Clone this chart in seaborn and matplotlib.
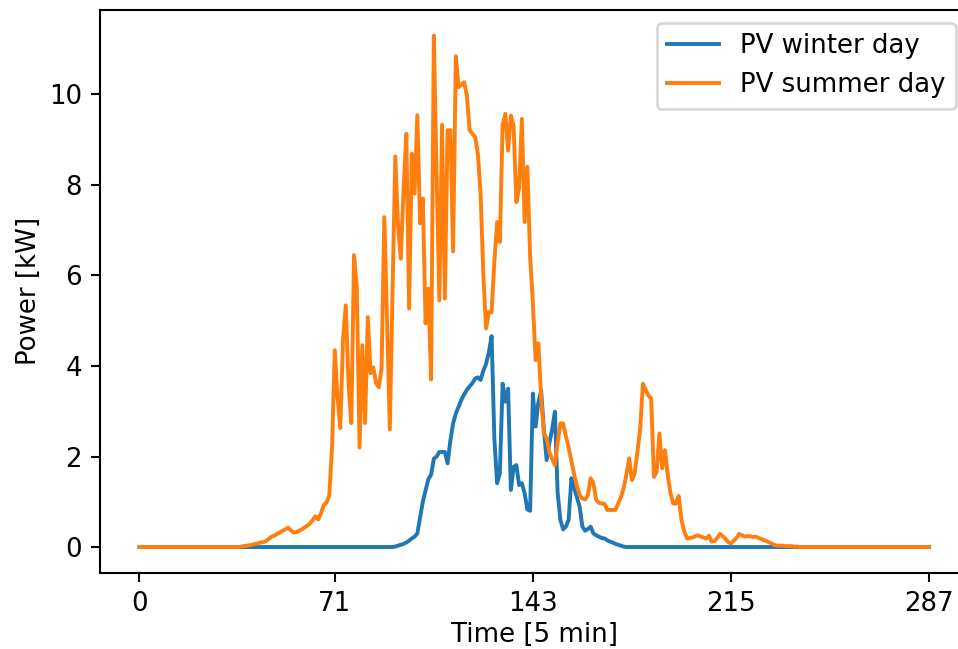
import numpy as np
import pandas as pd
import seaborn as sns
import matplotlib
matplotlib.use("Agg")
import matplotlib.pyplot as plt

#%% data (5 min steps, 288 per day)
pv_summer = ([0.0] * 37
             + [0.01, 0.02, 0.03, 0.04, 0.05, 0.07, 0.08, 0.1, 0.11, 0.13, 0.18, 0.23, 0.25, 0.29, 0.32, 0.36,
                0.39, 0.43, 0.37, 0.32, 0.33, 0.36, 0.39, 0.43, 0.47, 0.52, 0.6, 0.68, 0.61, 0.75, 0.93, 0.98]
             + [1.15, 2.2, 4.35, 3.3, 2.63, 4.6, 5.34, 3.6, 2.74, 6.45, 5.74, 2.2, 4.46, 2.74, 5.08, 3.84, 3.97, 3.62, 3.53, 3.95]
             + [7.29, 5.0, 2.6, 5.7, 8.63, 7.07, 6.37, 7.9, 9.13, 5.27, 8.69, 7.81, 9.54, 7.15, 7.7, 4.94, 5.71, 3.7, 11.3, 8.3]
             + [5.45, 9.33, 5.49, 9.21, 9.21, 6.53, 10.84, 10.16, 10.22, 10.27, 9.98, 9.21, 9.13, 9.06, 8.69, 7.81, 6.0, 4.83, 5.19, 5.19]
             + [6.3, 7.18, 6.74, 9.32, 9.57, 8.76, 9.53, 9.3, 7.62, 7.95, 9.46, 7.18, 8.4, 6.41, 5.4, 4.13, 4.5, 3.3, 2.51, 2.4]
             + [2.1, 1.95, 1.81, 2.3, 2.73, 2.73, 2.45, 2.2, 1.9, 1.6, 1.35, 1.15, 1.07, 1.05, 1.15, 1.52, 1.41, 1.04, 0.98, 0.96]
             + [0.96, 0.82, 0.82, 0.82, 0.82, 0.96, 1.1, 1.3, 1.6, 1.96, 1.48, 1.63, 2.1, 2.6, 3.61, 3.47, 3.35, 3.28, 1.55, 1.66]
             + [2.51, 1.74, 2.14, 1.6, 1.2, 0.96, 0.96, 1.13, 0.6, 0.35, 0.19, 0.2, 0.21, 0.24, 0.26, 0.23, 0.21, 0.19, 0.25, 0.12]
             + [0.13, 0.2, 0.29, 0.24, 0.18, 0.11, 0.08, 0.14, 0.2, 0.29, 0.26, 0.23, 0.24, 0.24, 0.22, 0.23, 0.2, 0.18, 0.15, 0.13]
             + [0.1, 0.07, 0.04, 0.03, 0.03, 0.03, 0.02, 0.02, 0.02, 0.01, 0.01]
             + [0.0] * 48)

pv_winter = ([0.0] * 93
             + [0.01, 0.03, 0.05, 0.07, 0.1, 0.14, 0.19, 0.23, 0.3, 0.65, 1.0, 1.25, 1.5, 1.6, 1.95, 2.0, 2.1, 2.1, 2.1, 1.85]
             + [2.35, 2.73, 2.95, 3.1, 3.25, 3.37, 3.47, 3.55, 3.62, 3.72, 3.75, 3.69, 3.9, 4.05, 4.3, 4.66, 2.4, 1.41, 1.63, 3.61]
             + [3.21, 3.5, 1.26, 1.77, 1.81, 1.37, 1.41, 1.19, 0.83, 0.8, 3.39, 2.66, 3.2, 3.45, 2.6, 1.92, 2.3, 2.6, 2.99, 1.2]
             + [0.6, 0.39, 0.45, 0.6, 1.52, 1.3, 1.1, 0.89, 0.45, 0.36, 0.4, 0.45, 0.3, 0.26, 0.23, 0.2, 0.19, 0.15, 0.12, 0.1]
             + [0.07, 0.05, 0.03, 0.01]
             + [0.0] * 111)

x_ticks = [0, 71, 143, 215, 287]

df = pd.DataFrame({"t": np.arange(len(pv_winter)), "winter": pv_winter, "summer": pv_summer})

#%% plot
DPI = 187
fig = plt.figure(figsize=(959 / DPI, 649 / DPI), dpi=DPI)
# axes run a bit past the right border, like the reference
ax = fig.add_axes([100 / 959, (649 - 572.6) / 649, 868.5 / 959, 562.6 / 649])

sns.lineplot(data=df, x="t", y="winter", ax=ax, color="#1f77b4", linewidth=1.5, label="PV winter day")
sns.lineplot(data=df, x="t", y="summer", ax=ax, color="#ff7f0e", linewidth=1.5, label="PV summer day")

ax.set_xticks(x_ticks)
ax.set_xlabel("Time [5 min]", labelpad=2)
ax.set_ylabel("Power [kW]", labelpad=2.5)
ax.legend(loc="upper right")

fig.savefig("out.png", dpi=DPI)
